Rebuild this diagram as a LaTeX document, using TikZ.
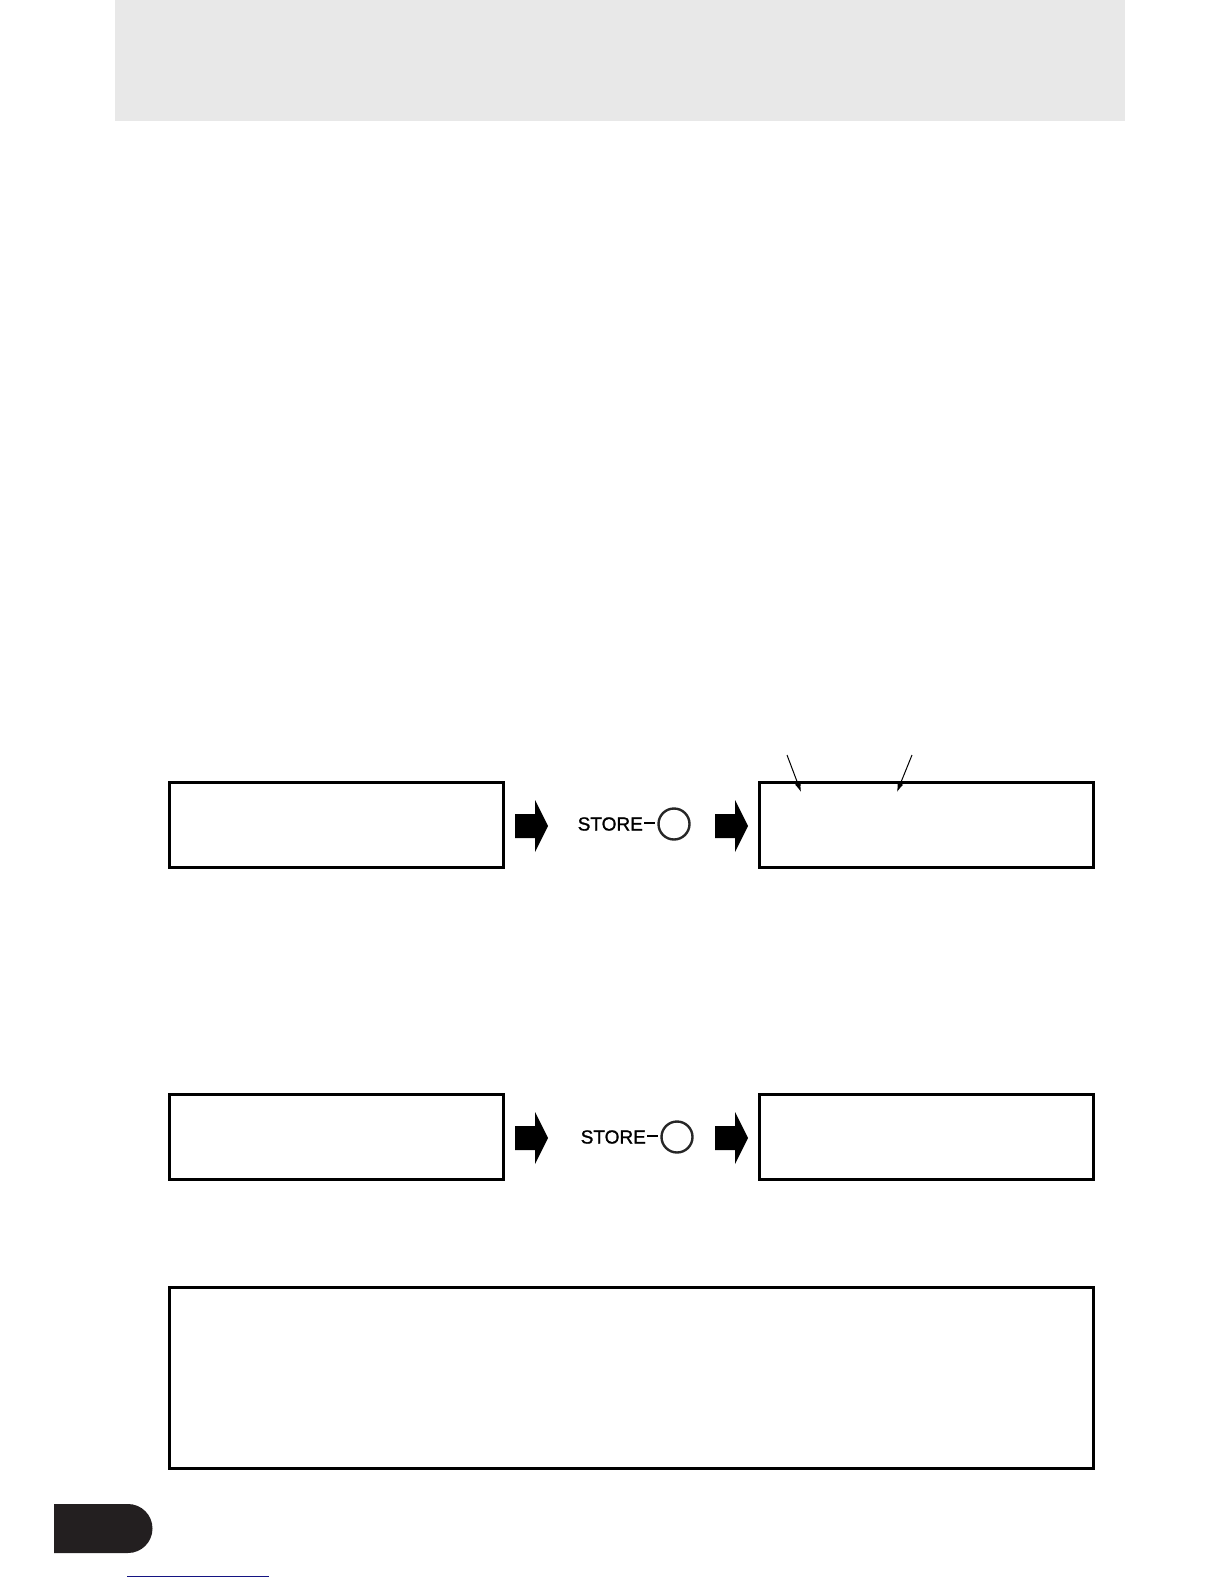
\documentclass[tikz,border=0pt]{standalone}
\usepackage{fontspec}
\setmainfont{Liberation Sans}
\newfontfamily\storefont[FakeBold=1.2]{Liberation Sans}
\usetikzlibrary{arrows.meta}
\definecolor{hdrgrey}{RGB}{232,232,232}
\definecolor{tabblack}{RGB}{35,31,32}
\definecolor{linkblue}{RGB}{20,20,130}
\begin{document}
\begin{tikzpicture}[x=1pt,y=-1pt,
  panel/.style={draw=black,line width=2.6pt,rectangle,inner sep=0pt,anchor=north west},
  storetxt/.style={font=\storefont\fontsize{19}{21}\selectfont,inner sep=0pt,anchor=east},
  btn/.style={draw=black!85,line width=2.4pt,circle,minimum size=31pt,inner sep=0pt},
  blockarrow/.style={fill=black},
  pointer/.style={line width=1pt,-{Latex[length=9pt,width=6pt]}}]
\useasboundingbox (0,0) rectangle (1224,1584);
\fill[hdrgrey] (115,0) rectangle (1125,121);
% row 1
\node[panel,minimum width=334pt,minimum height=85pt] (b1) at (168,781) {};
\node[panel,minimum width=334pt,minimum height=85pt] (b2) at (758,781) {};
\node[btn] (c1) at (674,824) {};
\node[storetxt] (s1) at (655,824) {STORE\kern1.5pt\rule[0.33em]{0.55em}{2pt}};
\fill[blockarrow] (515,814) -- (535,814) -- (535,800) -- (548,826) -- (535,852) -- (535,838) -- (515,838) -- cycle;
\fill[blockarrow] (715,814) -- (735,814) -- (735,800) -- (748,826) -- (735,852) -- (735,838) -- (715,838) -- cycle;
\coordinate (p1) at (787,755);
\coordinate (p2) at (912,755);
\draw[pointer] (p1) -- (801,792);
\draw[pointer] (p2) -- (897,792);
% row 2
\node[panel,minimum width=334pt,minimum height=85pt] (b3) at (168,1093) {};
\node[panel,minimum width=334pt,minimum height=85pt] (b4) at (758,1093) {};
\node[btn] (c2) at (677,1137) {};
\node[storetxt] (s2) at (658,1137) {STORE\kern1.5pt\rule[0.33em]{0.55em}{2pt}};
\fill[blockarrow] (515,1126) -- (535,1126) -- (535,1112) -- (548,1138) -- (535,1164) -- (535,1150) -- (515,1150) -- cycle;
\fill[blockarrow] (715,1126) -- (735,1126) -- (735,1112) -- (748,1138) -- (735,1164) -- (735,1150) -- (715,1150) -- cycle;
% bottom box
\node[panel,minimum width=924pt,minimum height=181pt] (b5) at (168,1286) {};
% tab
\fill[tabblack] (54,1504) -- (128,1504) arc[start angle=-90,end angle=90,radius=24.5] -- (54,1553) -- cycle;
\draw[linkblue,line width=1pt] (127,1576) -- (269,1576);
\end{tikzpicture}
\end{document}
